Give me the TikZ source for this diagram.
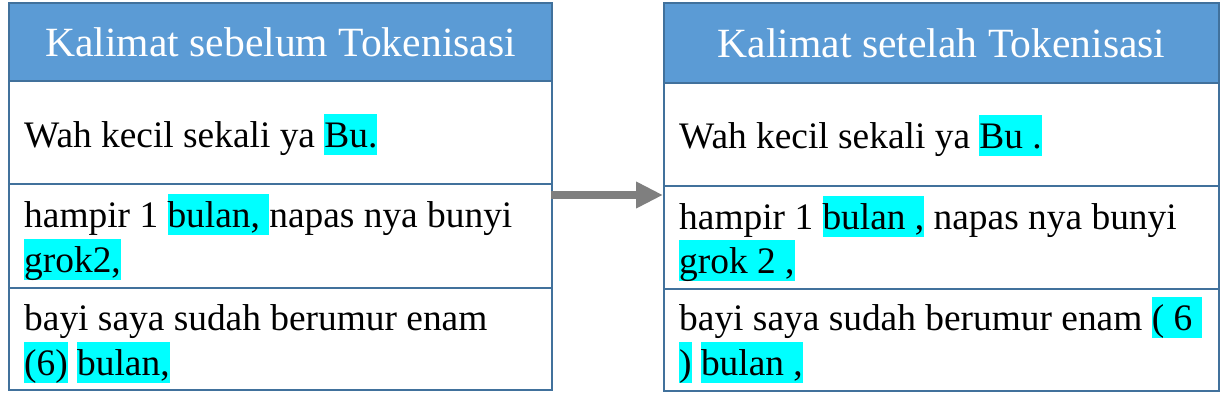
\documentclass[tikz,border=0pt]{standalone}
\usepackage{fontspec}
\setmainfont{Liberation Serif}
\usetikzlibrary{arrows.meta}
\definecolor{hdrfill}{HTML}{5B9BD5}
\definecolor{bordc}{HTML}{41719C}
\definecolor{hcyan}{HTML}{00FFFF}
\definecolor{arrc}{HTML}{7F7F7F}
\newcommand{\hlt}[1]{{\setlength{\fboxsep}{0pt}\colorbox{hcyan}{\rule[-0.216em]{0pt}{1.107em}#1}}}
\tikzset{
  cellbox/.style={draw=bordc, line width=2pt, fill=white, rectangle, inner sep=0pt, anchor=north west},
  hdrbox/.style={draw=bordc, line width=2pt, fill=hdrfill, rectangle, inner sep=0pt, anchor=north west, text=white, font=\fontsize{41.6}{45}\selectfont},
  txt/.style={anchor=base west, inner sep=0pt, font=\fontsize{37.4}{45}\selectfont},
  flow/.style={draw=arrc, line width=8pt, -{Triangle[length=27pt,width=25pt]}}
}
\begin{document}
\begin{tikzpicture}[x=1pt,y=-1pt]
\useasboundingbox (0,0) rectangle (1225,407);
% left table
\node[hdrbox, minimum width=543pt, minimum height=78pt] (lh) at (8,2) {Kalimat sebelum Tokenisasi};
\node[cellbox, minimum width=543pt, minimum height=103pt] (l1) at (8,80) {};
\node[cellbox, minimum width=543pt, minimum height=104pt] (l2) at (8,183) {};
\node[cellbox, minimum width=543pt, minimum height=102pt] (l3) at (8,287) {};
% right table
\node[hdrbox, minimum width=555pt, minimum height=80pt] (rh) at (663,2) {Kalimat setelah Tokenisasi};
\node[cellbox, minimum width=555pt, minimum height=103pt] (r1) at (663,82) {};
\node[cellbox, minimum width=555pt, minimum height=103pt] (r2) at (663,185) {};
\node[cellbox, minimum width=555pt, minimum height=102pt] (r3) at (663,288) {};
% left texts
\node[txt] (lt1) at (24,147) {Wah kecil sekali ya \hlt{Bu.}};
\node[txt] (lt2a) at (24,227) {hampir 1 \hlt{bulan,\ }napas nya bunyi};
\node[txt] (lt2b) at (24,272) {\hlt{grok2,}};
\node[txt] (lt3a) at (24,330) {bayi saya sudah berumur enam};
\node[txt] (lt3b) at (24,375) {\hlt{(6)} \hlt{bulan,}};
% right texts
\node[txt] (rt1) at (679,148) {Wah kecil sekali ya \hlt{Bu .}};
\node[txt] (rt2a) at (679,229) {hampir 1 \hlt{bulan ,} napas nya bunyi};
\node[txt] (rt2b) at (679,273) {\hlt{grok 2 ,}};
\node[txt] (rt3a) at (679,330) {bayi saya sudah berumur enam \hlt{( 6\ }};
\node[txt] (rt3b) at (679,375) {\hlt{)} \hlt{bulan ,}};
% arrow
\coordinate (la) at (551,195);
\coordinate (ra) at (663,195);
\draw[flow] (la) -- (ra);
\end{tikzpicture}
\end{document}
